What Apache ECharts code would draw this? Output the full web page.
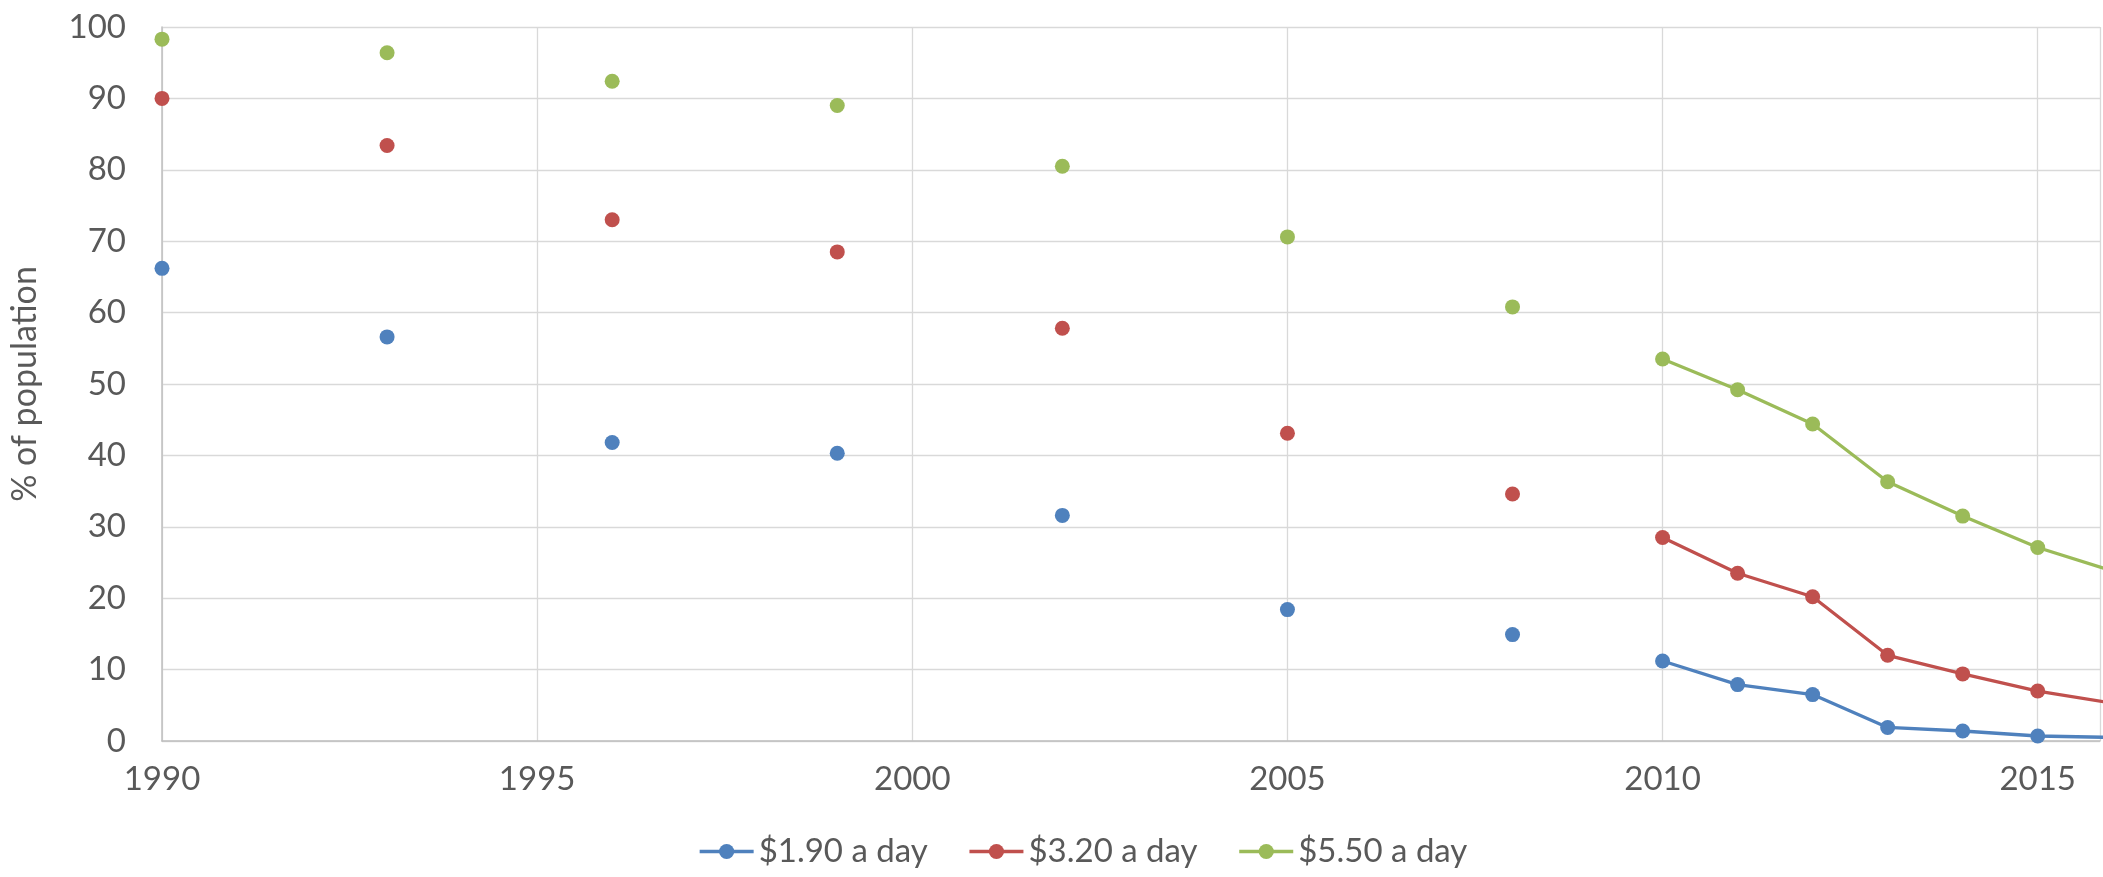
<!DOCTYPE html>
<html>
<head>
<meta charset="utf-8">
<script src="https://cdn.jsdelivr.net/npm/echarts@6/dist/echarts.min.js"></script>
<style>html,body{margin:0;padding:0;background:#fff}#c{width:2103px;height:877px}</style>
</head>
<body>
<div id="c"></div>
<script>
// Data (null = no survey for that year)
const years = [1990,1991,1992,1993,1994,1995,1996,1997,1998,1999,2000,2001,2002,2003,2004,2005,2006,2007,2008,2009,2010,2011,2012,2013,2014,2015,2016];
const s190 = [66.2,null,null,56.6,null,null,41.8,null,null,40.3,null,null,31.6,null,null,18.4,null,null,14.9,null,11.2,7.9,6.5,1.9,1.4,0.7,0.5];
const s320 = [90.0,null,null,83.4,null,null,73.0,null,null,68.5,null,null,57.8,null,null,43.1,null,null,34.6,null,28.5,23.5,20.2,12.0,9.4,7.0,5.3];
const s550 = [98.3,null,null,96.4,null,null,92.4,null,null,89.0,null,null,80.5,null,null,70.6,null,null,60.8,null,53.5,49.2,44.4,36.3,31.5,27.1,23.8];
const seriesNames = ['$1.90 a day','$3.20 a day','$5.50 a day'];
const colors = ['#4f81bd','#c0504d','#9bbb59'];
const yTicks = {min:0, max:100, interval:10};
const xRange = {min:1990, max:2015.83, interval:5};

const pair = arr => years.map((y,i)=>[y, arr[i]]);
const font = 'Lato';
const chart = echarts.init(document.getElementById('c'));
chart.setOption({
  animation:false,
  color: colors,
  grid:{left:153, top:27, right:0, bottom:136, containLabel:false},
  legend:{
    left:693, top:830, itemWidth:54, itemHeight:19, itemGap:40,
    lineStyle:{width:3.3},
    textStyle:{fontFamily:font, fontSize:33, color:'#595959'},
    data: seriesNames
  },
  xAxis:{
    type:'value', min:xRange.min, max:xRange.max, interval:xRange.interval,
    axisLine:{show:true, lineStyle:{color:'#bfbfbf', width:1.5}},
    axisTick:{show:false},
    splitLine:{show:true, lineStyle:{color:'#d9d9d9', width:1.3}},
    axisLabel:{fontFamily:font, fontSize:33, color:'#595959', margin:22,
      formatter: v => (Math.abs(v % 5) < 1e-9) ? String(v) : ''}
  },
  yAxis:{
    type:'value', min:yTicks.min, max:yTicks.max, interval:yTicks.interval,
    name:'% of population', nameLocation:'middle', nameGap:120,
    nameTextStyle:{fontFamily:font, fontSize:34, color:'#595959'},
    axisLine:{show:true, lineStyle:{color:'#bfbfbf', width:1.5}},
    axisTick:{show:false},
    splitLine:{show:true, lineStyle:{color:'#d9d9d9', width:1.3}},
    axisLabel:{fontFamily:font, fontSize:33, color:'#595959', margin:36}
  },
  series:[s190,s320,s550].map((arr,i)=>({
    name: seriesNames[i], type:'line', data: pair(arr),
    connectNulls:false, clip:true, showSymbol:true, showAllSymbol:true,
    symbol:'circle', symbolSize:15,
    lineStyle:{width:3.3, color:colors[i]},
    itemStyle:{color:colors[i]}
  }))
});
</script>
</body>
</html>
